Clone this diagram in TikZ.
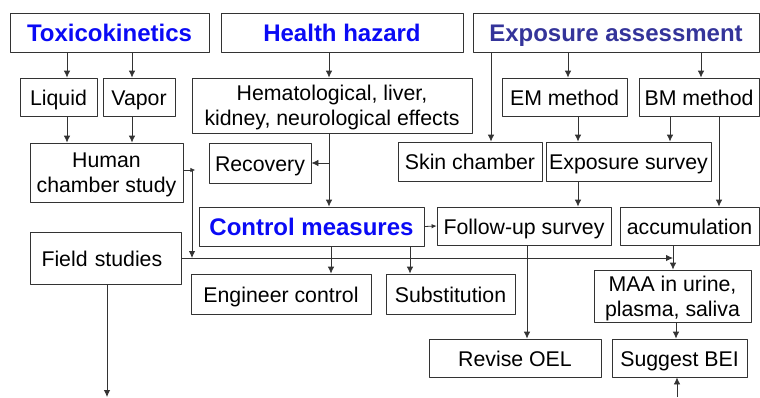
\documentclass[tikz,border=0pt]{standalone}
\usepackage{fontspec}
\setmainfont{Liberation Sans}
\usetikzlibrary{arrows.meta}
\definecolor{headblue}{HTML}{0A0AF5}
\definecolor{headpurple}{HTML}{34349A}
\begin{document}
\begin{tikzpicture}[x=1pt, y=-1pt, line join=round,
    font=\fontsize{21.3}{25}\selectfont,
    >={Latex[length=7pt,width=6.5pt]},
    box/.style={draw=black!80, line width=0.8pt, inner sep=0pt, align=center,
      text height=16pt, text depth=0pt},
    twoline/.style={box, text height=, text depth=-3pt},
    head/.style={box, font=\fontsize{24}{28}\selectfont\bfseries, text=headblue,
      text height=17pt},
    link/.style={->, draw=black!80, line width=0.8pt},
    shortlink/.style={link, >={Latex[length=5pt,width=4.5pt]}}]
    \useasboundingbox (0,0) rectangle (760,397);
    % headings
    \node[head, minimum width=199, minimum height=39] (tox) at (109.5,32.5) {Toxicokinetics};
    \node[head, minimum width=242, minimum height=39] (hh) at (342,32.5) {Health hazard};
    \node[head, minimum width=286, minimum height=39, text=headpurple] (ea) at (616,32.5) {Exposure assessment};
    % second row
    \node[box, minimum width=77, minimum height=38] (liq) at (58.5,97) {Liquid};
    \node[box, minimum width=72, minimum height=38] (vap) at (139,97) {Vapor};
    \node[twoline, minimum width=280, minimum height=55] (hem) at (332,105.5) {Hematological, liver,\\kidney, neurological effects};
    \node[box, minimum width=125, minimum height=38] (em) at (564.5,97) {EM method};
    \node[box, minimum width=120, minimum height=38] (bm) at (699,97) {BM method};
    % third row
    \node[twoline, minimum width=153, minimum height=59] (hcs) at (106.5,172.5) {Human\\chamber study};
    \node[box, minimum width=102, minimum height=40] (rec) at (260,163) {Recovery};
    \node[box, minimum width=144, minimum height=39] (skin) at (470,161.5) {Skin chamber};
    \node[box, minimum width=165, minimum height=39] (es) at (628.5,161.5) {Exposure survey};
    % fourth row
    \node[head, minimum width=225, minimum height=39] (cm) at (311.5,226.5) {Control measures};
    \node[box, minimum width=174, minimum height=38] (fus) at (524,226) {Follow-up survey};
    \node[box, minimum width=139, minimum height=38] (acc) at (689.5,226) {accumulation};
    \node[box, minimum width=151, minimum height=52, text width=140, align=left] (fs) at (105.5,258) {\hspace{6pt}Field studies};
    % lower rows
    \node[box, minimum width=180, minimum height=40] (eng) at (281,294) {Engineer control};
    \node[box, minimum width=129, minimum height=40] (sub) at (450.5,294) {Substitution};
    \node[twoline, minimum width=157, minimum height=52] (maa) at (672.5,296) {MAA in urine,\\plasma, saliva};
    \node[box, minimum width=172, minimum height=38] (oel) at (515,358) {Revise OEL};
    \node[box, minimum width=135, minimum height=38] (bei) at (679.5,358) {Suggest BEI};
    \coordinate (hcsout) at (192,170);
    \coordinate (fsdown) at (107,397);
    \coordinate (beiup) at (677,397);
    % toxicokinetics
    \draw[link] (67,0 |- tox.south) -- (67,0 |- liq.north);
    \draw[link] (132,0 |- tox.south) -- (132,0 |- vap.north);
    \draw[link] (67,0 |- liq.south) -- (67,0 |- hcs.north);
    \draw[link] (132,0 |- vap.south) -- (132,0 |- hcs.north);
    \draw[shortlink] (hcs.east |- hcsout) -- ++(12,0);
    \draw[link] (hcsout) -- (hcsout |- fs.east);
    \draw[link] (fs.east) -- (673,0 |- fs.east);
    \draw[link] (107,0 |- fs.south) -- (fsdown);
    % health hazard
    \draw[link] (329,0 |- hh.south) -- (329,0 |- hem.north);
    \draw[link] (329,0 |- hem.south) -- (329,0 |- cm.north);
    \draw[link] (rec.east -| 329,0) -- (rec.east);
    \draw[link] (331,0 |- cm.south) -- (331,0 |- eng.north);
    \draw[link] (410,0 |- cm.south) -- (410,0 |- sub.north);
    \draw[shortlink] (cm.east) -- (fus.west);
    \draw[link] (527,0 |- fus.south) -- (527,0 |- oel.north);
    % exposure assessment
    \draw[link] (491,0 |- ea.south) -- (491,0 |- skin.north);
    \draw[link] (568,0 |- ea.south) -- (568,0 |- em.north);
    \draw[link] (701,0 |- ea.south) -- (701,0 |- bm.north);
    \draw[link] (578,0 |- em.south) -- (578,0 |- es.north);
    \draw[link] (670,0 |- bm.south) -- (670,0 |- es.north);
    \draw[link] (719,0 |- bm.south) -- (719,0 |- acc.north);
    \draw[link] (578,0 |- es.south) -- (578,0 |- fus.north);
    \draw[link] (673,0 |- acc.south) -- (673,0 |- maa.north);
    \draw[link] (676,0 |- maa.south) -- (676,0 |- bei.north);
    \draw[link] (beiup) -- (677,0 |- bei.south);
\end{tikzpicture}
\end{document}
